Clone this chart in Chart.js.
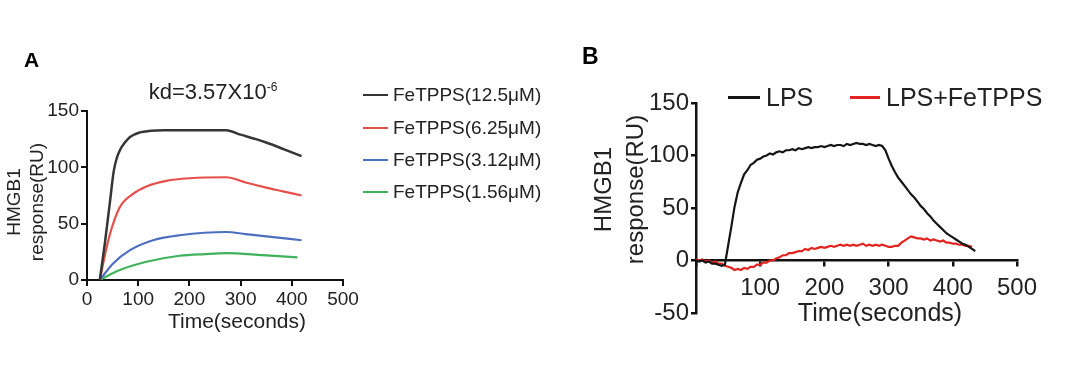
<!DOCTYPE html>
<html>
<head>
<meta charset="utf-8">
<script src="https://cdn.jsdelivr.net/npm/chart.js@4.4.0/dist/chart.umd.min.js"></script>
<style>
    body { margin: 0; background: #fff; width: 1080px; height: 366px; overflow: hidden; position: relative;
           font-family: "Liberation Sans", Arial, sans-serif; color: #222; }
    canvas { position: absolute; top: 0; }
    #chartA { left: 0; }
    #chartB { left: 580px; }
    .abs { position: absolute; white-space: nowrap; line-height: 1; }
    .panel { font-weight: bold; color: #000; }
    .ytitle { position: absolute; text-align: center; transform: rotate(-90deg); white-space: nowrap; }
    .xtitle { position: absolute; text-align: center; white-space: nowrap; }
    .legRow { position: absolute; display: flex; align-items: center; white-space: nowrap; }
    .legRow span.ln { display: inline-block; height: 2.5px; }
</style>
</head>
<body>
<canvas id="chartA" width="370" height="366"></canvas>
<canvas id="chartB" width="500" height="366"></canvas>

<div class="abs panel" style="left:24px; top:49px; font-size:21px;">A</div>
<div class="abs panel" style="left:582px; top:45px; font-size:23px;">B</div>

<div class="xtitle" style="left:113px; top:76px; width:200px; font-size:22px; line-height:22px;">kd=3.57X10<sup style="font-size:12px;">-6</sup></div>

<div class="ytitle" style="left:-75px; top:179px; width:200px; height:46px; font-size:19px; line-height:23px;">HMGB1<br>response(RU)</div>
<div class="xtitle" style="left:137px; top:310px; width:200px; font-size:21px; line-height:22px;">Time(seconds)</div>

<div class="ytitle" style="left:518px; top:158px; width:200px; height:63px; font-size:24px; line-height:31.5px;">HMGB1<br>response(RU)</div>
<div class="xtitle" style="left:780px; top:298px; width:200px; font-size:25px; line-height:28px;">Time(seconds)</div>

<div id="legendA"></div>
<div id="legendB"></div>

<script>
// Panel A: kinetic fits, time (s) and response (RU) per concentration
const blackA_t = [25, 35, 45, 52, 58, 64, 74, 84, 103, 125, 150, 272, 300, 330, 350, 385, 419];
const blackA_y = [0, 33, 70, 96, 108, 115, 122, 127, 131, 132.5, 133, 133, 129, 125, 122, 116, 110];
const redA_t = [25, 35, 45, 64, 90, 116, 155, 200, 272, 310, 350, 385, 419];
const redA_y = [0, 22, 41, 64.5, 76.5, 83, 88, 90.3, 91.2, 86.5, 82, 78.5, 75];
const blueA_t = [25, 51, 84, 129, 181, 272, 310, 350, 419];
const blueA_y = [0, 14.7, 26.5, 35.3, 39.7, 42.6, 40.8, 38.8, 35.3];
const greenA_t = [25, 64, 116, 181, 230, 272, 343, 411];
const greenA_y = [0, 8.8, 16.2, 21.5, 23, 23.8, 22, 20];
const labelsA = ['FeTPPS(12.5μM)', 'FeTPPS(6.25μM)', 'FeTPPS(3.12μM)', 'FeTPPS(1.56μM)'];
const colorsA = ['#353535', '#e5504a', '#4c6fbf', '#3eb35b'];

// Panel B: sensorgrams sampled every 5 s
const timeB = [0, 5, 10, 15, 20, 25, 30, 35, 40, 45, 50, 55, 60, 65, 70, 75, 80, 85, 90, 95,
    100, 105, 110, 115, 120, 125, 130, 135, 140, 145, 150, 155, 160, 165, 170, 175, 180, 185, 190, 195,
    200, 205, 210, 215, 220, 225, 230, 235, 240, 245, 250, 255, 260, 265, 270, 275, 280, 285, 290, 295,
    300, 305, 310, 315, 320, 325, 330, 335, 340, 345, 350, 355, 360, 365, 370, 375, 380, 385, 390, 395,
    400, 405, 410, 415, 420, 425, 430, 435];
const lpsB = [0, -1, 0, -2, -1, -3, -3, -4, -5, -4, 14, 32, 51, 65, 74, 82, 86, 91, 93, 96,
    97, 99, 100, 102, 101, 103, 104, 103, 105, 105, 106, 105, 107, 106, 107, 108, 107, 108, 108, 109,
    108, 109, 110, 109, 110, 110, 109, 111, 110, 111, 112, 111, 111, 110, 111, 110, 109, 110, 109, 105,
    97, 90, 84, 79, 75, 71, 67, 63, 60, 56, 52, 49, 45, 42, 38, 35, 32, 29, 26, 24,
    22, 20, 18, 16, 15, 13, 11, 9];
const lpsFeB = [1, 0, 1, -1, 0, -2, -1, -3, -3, -5, -6, -7, -9, -8, -9, -7, -8, -6, -6, -4,
    -4, -2, -2, 0, 0, 2, 3, 5, 5, 7, 7, 8, 9, 9, 11, 10, 12, 11, 12, 13,
    12, 13, 14, 13, 14, 15, 14, 15, 14, 15, 14, 15, 16, 14, 15, 14, 15, 14, 15, 14,
    13, 13, 14, 14, 17, 19, 21, 23, 22, 21, 21, 20, 21, 19, 20, 19, 18, 19, 17, 17,
    16, 16, 15, 15, 14, 14, 13];
const labelsB = ['LPS', 'LPS+FeTPPS'];
const colorsB = ['#151515', '#e2231f'];

Chart.defaults.font.family = '"Liberation Sans", Arial, sans-serif';
Chart.defaults.color = '#222';

function pairs(xs, ys) {
    return ys.map((y, i) => ({ x: xs[i], y: y }));
}

function axisStyle(size, tick, pad, width) {
    return {
        grid: { drawOnChartArea: false, drawTicks: true, tickLength: tick, color: '#111', lineWidth: width },
        border: { color: '#111', width: width },
        ticks: { font: { size: size }, padding: pad, color: '#222', maxRotation: 0 }
    };
}

// Panel A
const axA = axisStyle(19, 6, 2, 2);
const chartA = new Chart(document.getElementById('chartA'), {
    type: 'line',
    data: {
        datasets: [
            { label: labelsA[0], data: pairs(blackA_t, blackA_y), borderColor: colorsA[0], borderWidth: 2.5 },
            { label: labelsA[1], data: pairs(redA_t, redA_y), borderColor: colorsA[1], borderWidth: 2.2 },
            { label: labelsA[2], data: pairs(blueA_t, blueA_y), borderColor: colorsA[2], borderWidth: 2.2 },
            { label: labelsA[3], data: pairs(greenA_t, greenA_y), borderColor: colorsA[3], borderWidth: 2.2 }
        ]
    },
    options: {
        responsive: false,
        animation: false,
        devicePixelRatio: 1,
        layout: { padding: { left: 0, top: 111, right: 27, bottom: 0 } },
        elements: { point: { radius: 0 }, line: { cubicInterpolationMode: 'monotone', fill: false } },
        plugins: { legend: { display: false }, tooltip: { enabled: false } },
        scales: {
            x: {
                type: 'linear', min: 0, max: 500,
                afterFit: scale => { scale.height = 86; },
                grid: axA.grid, border: axA.border,
                ticks: Object.assign({}, axA.ticks, { stepSize: 100 })
            },
            y: {
                type: 'linear', min: 0, max: 150,
                afterFit: scale => { scale.width = 87; },
                grid: axA.grid, border: axA.border,
                ticks: Object.assign({}, axA.ticks, { stepSize: 50 })
            }
        }
    }
});

// Panel B
const axB = axisStyle(24, 5, 2, 2.5);
const chartB = new Chart(document.getElementById('chartB'), {
    type: 'line',
    data: {
        datasets: [
            { label: labelsB[0], data: pairs(timeB, lpsB), borderColor: colorsB[0], borderWidth: 2.2 },
            { label: labelsB[1], data: pairs(timeB, lpsFeB), borderColor: colorsB[1], borderWidth: 2.2 }
        ]
    },
    options: {
        responsive: false,
        animation: false,
        devicePixelRatio: 1,
        layout: { padding: { left: 0, top: 103, right: 63, bottom: 53 } },
        elements: { point: { radius: 0 }, line: { tension: 0, fill: false } },
        plugins: { legend: { display: false }, tooltip: { enabled: false } },
        scales: {
            x: {
                type: 'linear', min: 0, max: 500,
                position: { y: 0 },
                afterFit: scale => { scale.height = 60; },
                grid: axB.grid, border: axB.border,
                ticks: Object.assign({}, axB.ticks, {
                    stepSize: 100, padding: 8,
                    callback: v => (v === 0 ? '' : v)
                })
            },
            y: {
                type: 'linear', min: -50, max: 150,
                afterFit: scale => { scale.width = 116; },
                grid: axB.grid, border: axB.border,
                ticks: Object.assign({}, axB.ticks, { stepSize: 50 })
            }
        }
    }
});

// Legends as plain text rows
const rowsA = [95, 128, 160, 192];
const legA = document.getElementById('legendA');
labelsA.forEach((txt, i) => {
    const row = document.createElement('div');
    row.className = 'legRow';
    row.style.left = '363px';
    row.style.top = (rowsA[i] - 12) + 'px';
    row.style.height = '24px';
    row.style.fontSize = '19px';
    row.innerHTML = '<span class="ln" style="width:25px;background:' + colorsA[i] + '"></span>' +
        '<span style="margin-left:5px">' + txt + '</span>';
    legA.appendChild(row);
});

const legBx = [728, 850];
const legBw = [32, 30];
const legB = document.getElementById('legendB');
labelsB.forEach((txt, i) => {
    const row = document.createElement('div');
    row.className = 'legRow';
    row.style.left = legBx[i] + 'px';
    row.style.top = '83px';
    row.style.height = '28px';
    row.style.fontSize = '25px';
    row.innerHTML = '<span class="ln" style="width:' + legBw[i] + 'px;height:3px;background:' + colorsB[i] + '"></span>' +
        '<span style="margin-left:6px">' + txt + '</span>';
    legB.appendChild(row);
});
</script>
</body>
</html>
